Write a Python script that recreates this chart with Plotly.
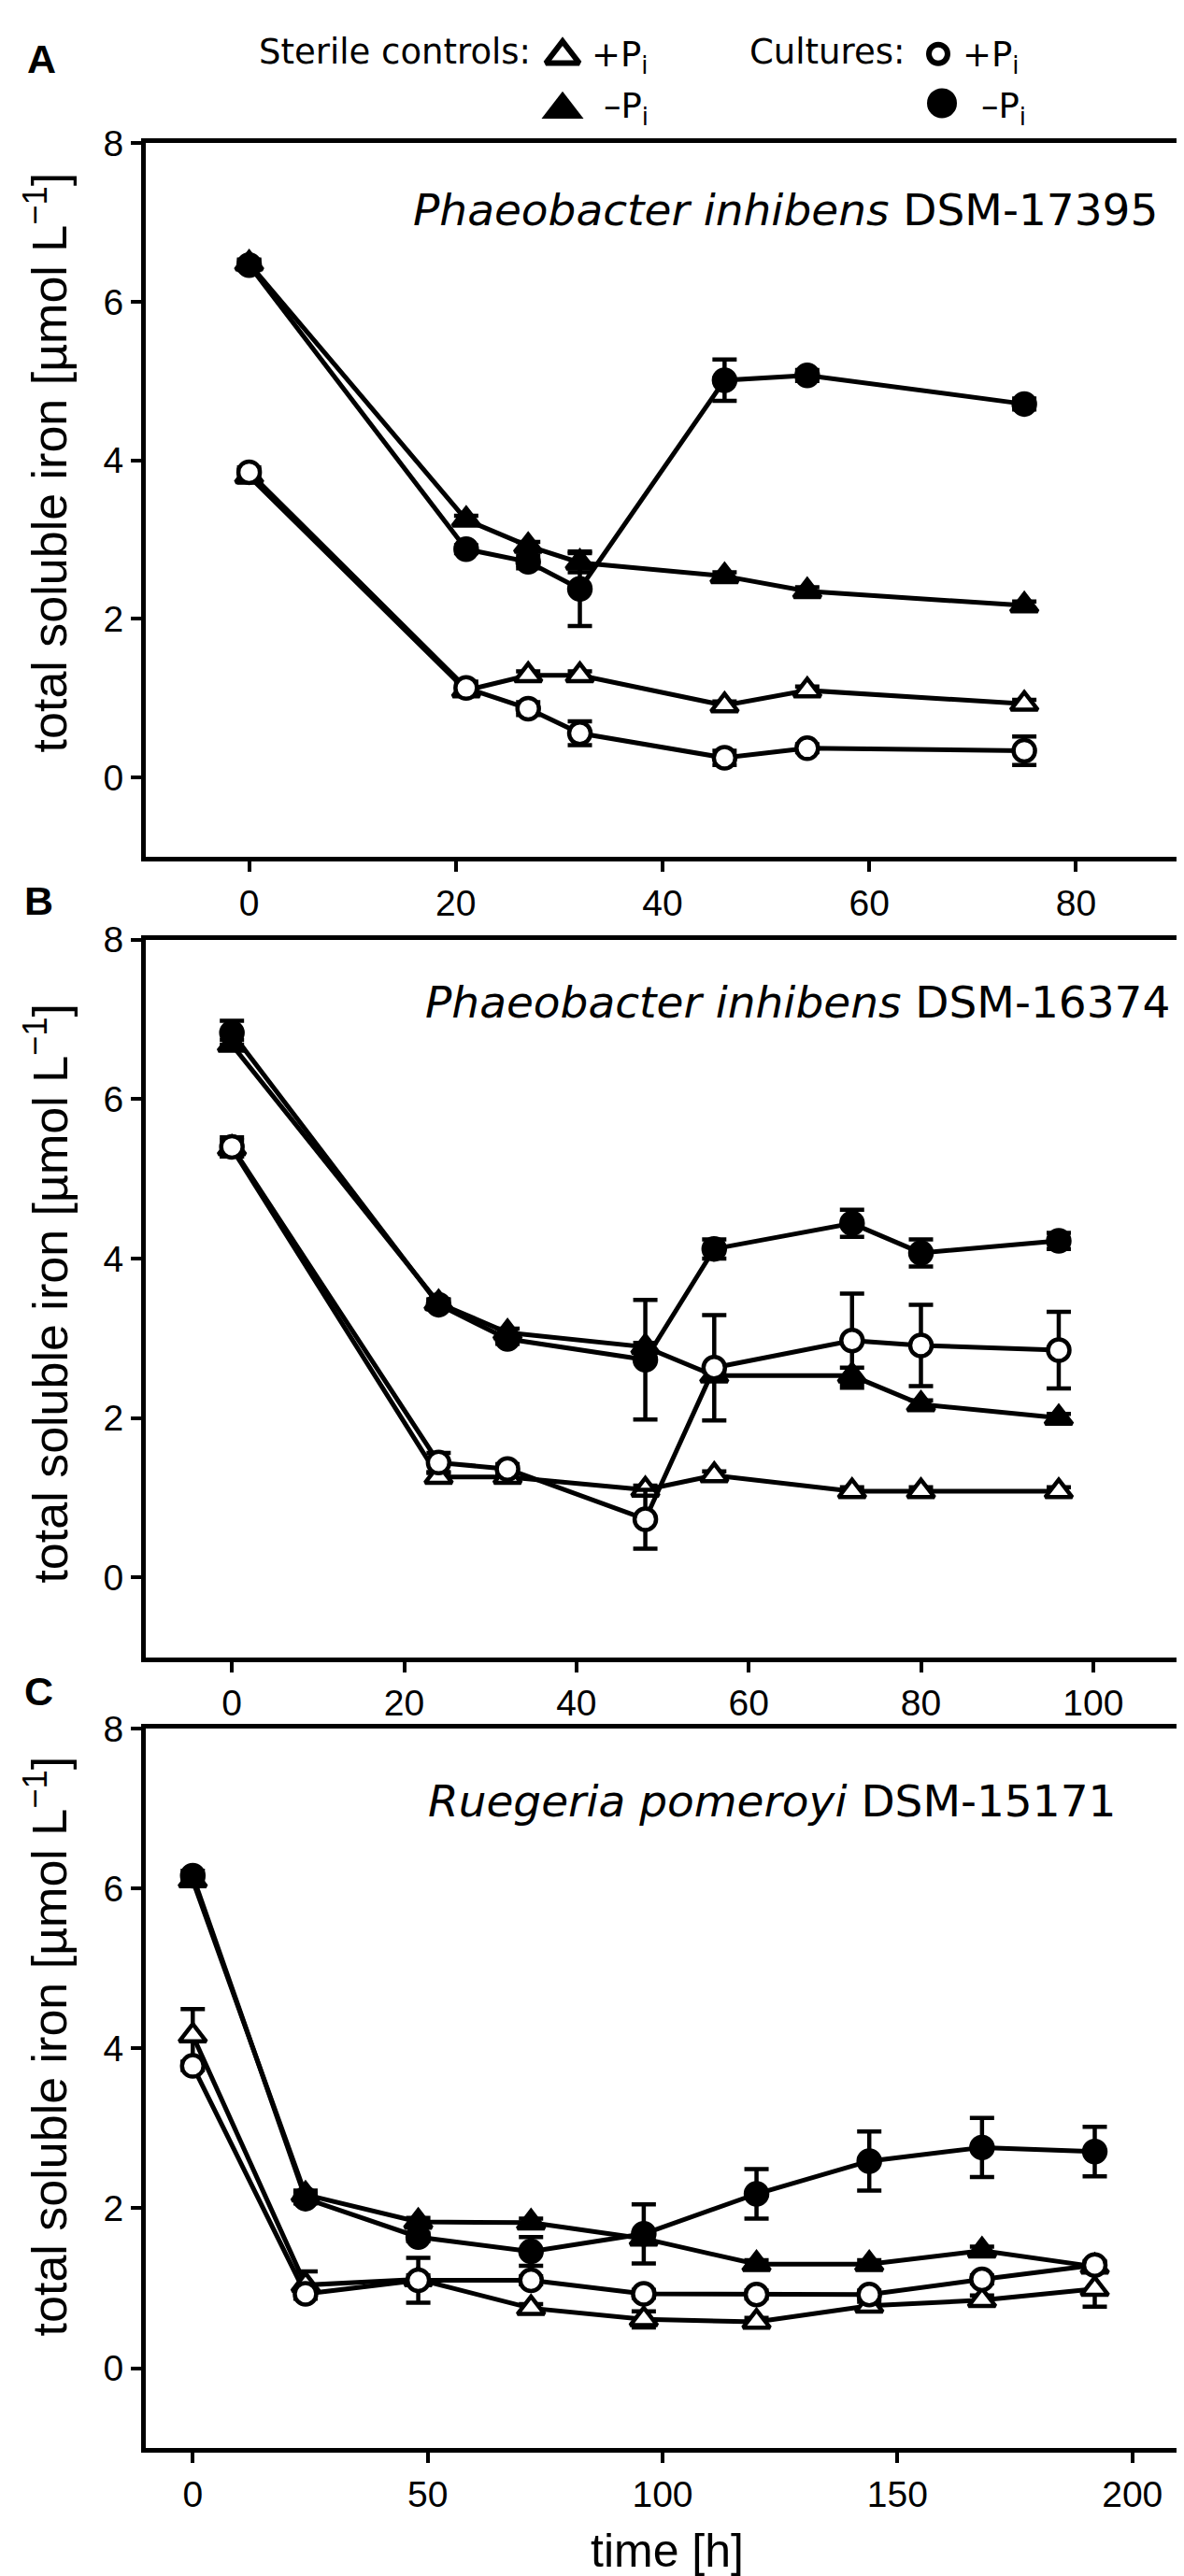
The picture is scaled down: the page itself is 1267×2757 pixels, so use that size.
import plotly.graph_objects as go

W, H = 1267, 2757

# ---- data (time in h, soluble iron in umol/L) ----
time_a = [0, 21, 27, 32, 46, 54, 75]
a_ster_plus = [3.80, 1.10, 1.29, 1.29, 0.91, 1.10, 0.93]
a_ster_plus_err = [0.08, 0.05, 0.05, 0.05, 0.05, 0.05, 0.05]
a_ster_minus = [6.48, 3.25, 2.92, 2.71, 2.54, 2.35, 2.17]
a_ster_minus_err = [0.05, 0.05, 0.05, 0.12, 0.05, 0.05, 0.05]
a_cult_plus = [3.85, 1.13, 0.87, 0.56, 0.25, 0.37, 0.34]
a_cult_plus_err = [0.06, 0.08, 0.08, 0.15, 0.09, 0.05, 0.18]
a_cult_minus = [6.46, 2.88, 2.72, 2.38, 5.01, 5.07, 4.71]
a_cult_minus_err = [0.06, 0.05, 0.08, 0.47, 0.26, 0.07, 0.07]

time_b = [0, 24, 32, 48, 56, 72, 80, 96]
b_ster_plus = [5.38, 1.26, 1.26, 1.10, 1.28, 1.08, 1.08, 1.08]
b_ster_plus_err = [0.10, 0.05, 0.05, 0.05, 0.05, 0.05, 0.05, 0.05]
b_ster_minus = [6.68, 3.44, 3.07, 2.89, 2.53, 2.53, 2.17, 2.00]
b_ster_minus_err = [0.06, 0.05, 0.05, 0.05, 0.05, 0.10, 0.05, 0.05]
b_cult_plus = [5.40, 1.44, 1.36, 0.73, 2.63, 2.97, 2.91, 2.85]
b_cult_plus_err = [0.12, 0.12, 0.06, 0.37, 0.66, 0.59, 0.51, 0.48]
b_cult_minus = [6.83, 3.42, 2.99, 2.73, 4.12, 4.44, 4.07, 4.22]
b_cult_minus_err = [0.15, 0.06, 0.06, 0.75, 0.12, 0.17, 0.17, 0.10]

time_c = [0, 24, 48, 72, 96, 120, 144, 168, 192]
c_ster_plus = [4.16, 1.04, 1.11, 0.75, 0.61, 0.58, 0.78, 0.85, 0.99]
c_ster_plus_err = [0.33, 0.17, 0.05, 0.05, 0.10, 0.05, 0.05, 0.06, 0.22]
c_ster_minus = [6.10, 2.17, 1.83, 1.82, 1.62, 1.30, 1.30, 1.47, 1.27]
c_ster_minus_err = [0.05, 0.05, 0.05, 0.05, 0.05, 0.05, 0.05, 0.05, 0.05]
c_cult_plus = [3.78, 0.93, 1.10, 1.10, 0.93, 0.92, 0.92, 1.11, 1.29]
c_cult_plus_err = [0.05, 0.06, 0.28, 0.05, 0.05, 0.05, 0.05, 0.05, 0.05]
c_cult_minus = [6.16, 2.12, 1.64, 1.46, 1.68, 2.18, 2.59, 2.76, 2.71]
c_cult_minus_err = [0.06, 0.06, 0.05, 0.18, 0.37, 0.31, 0.37, 0.37, 0.31]

species = ["<i>Phaeobacter inhibens</i> DSM-17395",
           "<i>Phaeobacter inhibens</i> DSM-16374",
           "<i>Ruegeria pomeroyi</i> DSM-15171"]
panel_letters = ["A", "B", "C"]
x_ranges = [[-10, 90], [-10, 110], [-10, 210]]
x_ticks = [[0, 20, 40, 60, 80], [0, 20, 40, 60, 80, 100], [0, 50, 100, 150, 200]]
y_ticks = [0, 2, 4, 6, 8]
y_title = "total soluble iron [µmol L<sup>−1</sup>]"

panels = [
    (time_a, [(a_ster_plus, a_ster_plus_err), (a_ster_minus, a_ster_minus_err),
              (a_cult_plus, a_cult_plus_err), (a_cult_minus, a_cult_minus_err)]),
    (time_b, [(b_ster_plus, b_ster_plus_err), (b_ster_minus, b_ster_minus_err),
              (b_cult_plus, b_cult_plus_err), (b_cult_minus, b_cult_minus_err)]),
    (time_c, [(c_ster_plus, c_ster_plus_err), (c_ster_minus, c_ster_minus_err),
              (c_cult_plus, c_cult_plus_err), (c_cult_minus, c_cult_minus_err)]),
]

# marker styles: sterile +Pi, sterile -Pi, culture +Pi, culture -Pi
styles = [
    dict(symbol="triangle-up", size=25, color="white", line=dict(color="black", width=4.5)),
    dict(symbol="triangle-up", size=25, color="black", line=dict(color="black", width=4.5)),
    dict(symbol="circle", size=23, color="white", line=dict(color="black", width=4.5)),
    dict(symbol="circle", size=23, color="black", line=dict(color="black", width=4.5)),
]

# layout in pixels of the page
box_x = (148, 1254)
box_y = [(125, 895), (984, 1758), (1835, 2611)]
letter_pos = [(36, 34), (33, 942), (33, 1795)]
species_pos = [(432, 197), (445, 1052), (448, 1913)]
ytitle_pos = [(42, 470), (42, 1366), (42, 2178)]


def px(x):
    return x / W


def py(y):
    return 1 - y / H


fig = go.Figure()

for i, (t, series) in enumerate(panels):
    xa = "x" if i == 0 else f"x{i + 1}"
    ya = "y" if i == 0 else f"y{i + 1}"
    for (vals, err), st in zip(series, styles):
        fig.add_trace(go.Scatter(
            x=t, y=vals, xaxis=xa, yaxis=ya, mode="lines+markers",
            line=dict(color="black", width=5),
            marker=st,
            error_y=dict(type="data", array=err, visible=True, color="black",
                         thickness=4.5, width=13),
            showlegend=False, cliponaxis=False,
        ))

# legend keys drawn on a hidden full-page axis
key_x = [594, 594, 996, 1000]
key_y = [31, 89, 29, 82]
key_styles = [
    dict(symbol="triangle-up", size=31, color="white", line=dict(color="black", width=6)),
    dict(symbol="triangle-up", size=39, color="black", line=dict(color="black", width=0)),
    dict(symbol="circle", size=20, color="white", line=dict(color="black", width=6)),
    dict(symbol="circle", size=32, color="black", line=dict(color="black", width=0)),
]
for kx, ky, st in zip(key_x, key_y, key_styles):
    fig.add_trace(go.Scatter(x=[kx], y=[ky], xaxis="x4", yaxis="y4", mode="markers",
                             marker=st, showlegend=False, cliponaxis=False,
                             hoverinfo="skip"))

axis_common = dict(showline=True, linecolor="black", linewidth=5, mirror=True,
                   ticks="outside", ticklen=11, tickwidth=4, tickcolor="black",
                   showgrid=False, zeroline=False,
                   tickfont=dict(family="Liberation Sans", size=39, color="black"))

layout = dict(width=W, height=H, margin=dict(l=0, r=0, t=0, b=0),
              paper_bgcolor="white", plot_bgcolor="rgba(0,0,0,0)",
              showlegend=False)

for i in range(3):
    sx = "" if i == 0 else str(i + 1)
    y0, y1 = box_y[i]
    layout[f"xaxis{sx}"] = dict(axis_common, domain=[px(box_x[0]), px(box_x[1])],
                                range=x_ranges[i], tickvals=x_ticks[i],
                                anchor=f"y{sx}")
    layout[f"yaxis{sx}"] = dict(axis_common, domain=[py(y1), py(y0)],
                                range=[-1, 8], tickvals=y_ticks, anchor=f"x{sx}")

layout["xaxis4"] = dict(domain=[0, 1], range=[0, W], visible=False, anchor="y4")
layout["yaxis4"] = dict(domain=[0, 1], range=[H, 0], visible=False, anchor="x4")

ann = []
for i in range(3):
    lx, ly = letter_pos[i]
    ann.append(dict(text="<b>" + panel_letters[i] + "</b>", x=px(lx), y=py(ly),
                    xref="paper", yref="paper", xanchor="center", yanchor="middle",
                    showarrow=False,
                    font=dict(family="Liberation Sans", size=43, color="black")))
    sx_, sy_ = species_pos[i]
    ann.append(dict(text=species[i], x=px(sx_), y=py(sy_), xref="paper", yref="paper",
                    xanchor="left", yanchor="middle", showarrow=False,
                    font=dict(family="DejaVu Sans", size=47, color="black")))
    tx, ty = ytitle_pos[i]
    ann.append(dict(text=y_title, x=px(tx), y=py(ty), xref="paper", yref="paper",
                    xanchor="center", yanchor="middle",
                    textangle=-90, showarrow=False,
                    font=dict(family="Liberation Sans", size=52, color="black")))

ann.append(dict(text="time [h]", x=px(706), y=py(2722), xref="paper", yref="paper",
                xanchor="center", yanchor="middle", showarrow=False,
                font=dict(family="Liberation Sans", size=50, color="black")))

legend_font = dict(family="DejaVu Sans", size=37, color="black")
legend_texts = [
    ("Sterile controls:", 562, 27, "right"),
    ("+P<sub>i</sub>", 623, 32, "left"),
    ("–P<sub>i</sub>", 636, 88, "left"),
    ("Cultures:", 962, 27, "right"),
    ("+P<sub>i</sub>", 1020, 32, "left"),
    ("–P<sub>i</sub>", 1040, 88, "left"),
]
for txt, lx, ly, anc in legend_texts:
    ann.append(dict(text=txt, x=px(lx), y=py(ly), xref="paper", yref="paper",
                    xanchor=anc, yanchor="middle", showarrow=False, font=legend_font))

layout["annotations"] = ann
fig.update_layout(layout)

fig.write_html("out.html")
